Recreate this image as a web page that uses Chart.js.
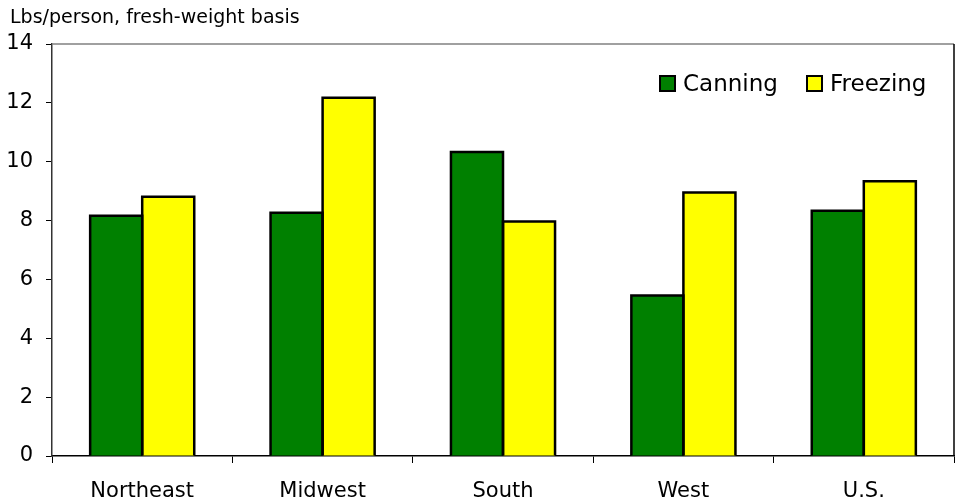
<!DOCTYPE html>
<html>
<head>
<meta charset="utf-8">
<script src="https://cdn.jsdelivr.net/npm/chart.js@4"></script>
<style>
  html, body { margin: 0; padding: 0; background: #ffffff; }
  canvas { display: block; }
</style>
</head>
<body>
<canvas id="chart" width="959" height="502"></canvas>
<script>
// Per-capita use of vegetables for processing, by region
const regions = ['Northeast', 'Midwest', 'South', 'West', 'U.S.'];
const canning = [8.16, 8.27, 10.33, 5.45, 8.33];
const freezing = [8.81, 12.17, 7.97, 8.95, 9.34];
const seriesNames = ['Canning', 'Freezing'];
const unitLabel = 'Lbs/person, fresh-weight basis';

const FONT = 'DejaVu Sans';

// Unit caption above the value axis
const captionPlugin = {
  id: 'caption',
  afterDraw(chart) {
    const ctx = chart.ctx;
    ctx.save();
    ctx.font = '19px "' + FONT + '"';
    ctx.fillStyle = '#000';
    ctx.textAlign = 'left';
    ctx.textBaseline = 'alphabetic';
    ctx.fillText(unitLabel, 10, 23);
    ctx.restore();
  }
};

// Outline each bar with a centred stroke so neighbouring bars share one edge
const barOutlinePlugin = {
  id: 'barOutline',
  afterDatasetsDraw(chart) {
    const ctx = chart.ctx;
    ctx.save();
    ctx.lineWidth = 2.5;
    ctx.strokeStyle = '#000';
    ctx.lineJoin = 'miter';
    chart.data.datasets.forEach((ds, i) => {
      const meta = chart.getDatasetMeta(i);
      meta.data.forEach(bar => {
        const p = bar.getProps(['x', 'y', 'base', 'width'], true);
        const left = p.x - p.width / 2;
        ctx.beginPath();
        ctx.moveTo(left, p.base);
        ctx.lineTo(left, p.y);
        ctx.lineTo(left + p.width, p.y);
        ctx.lineTo(left + p.width, p.base);
        ctx.stroke();
      });
    });
    ctx.restore();
  }
};

// Top and right edges of the plot frame
const framePlugin = {
  id: 'frame',
  afterDraw(chart) {
    const { ctx, chartArea: a } = chart;
    ctx.save();
    ctx.lineWidth = 1.5;
    ctx.strokeStyle = '#808080';
    ctx.beginPath();
    ctx.moveTo(a.left, a.top);
    ctx.lineTo(a.right, a.top);
    ctx.stroke();
    ctx.strokeStyle = '#000';
    ctx.beginPath();
    ctx.moveTo(a.right, a.top);
    ctx.lineTo(a.right, a.bottom);
    ctx.stroke();
    ctx.restore();
  }
};

// Legend placed inside the plot, top right
const insideLegendPlugin = {
  id: 'insideLegend',
  afterDraw(chart) {
    const ctx = chart.ctx;
    const xs = [660, 807];
    ctx.save();
    ctx.font = '23px "' + FONT + '"';
    ctx.textBaseline = 'middle';
    ctx.textAlign = 'left';
    chart.data.datasets.forEach((ds, i) => {
      const x = xs[i];
      ctx.fillStyle = ds.backgroundColor;
      ctx.fillRect(x, 76, 15, 15);
      ctx.lineWidth = 2;
      ctx.strokeStyle = '#000';
      ctx.strokeRect(x, 76, 15, 15);
      ctx.fillStyle = '#000';
      ctx.fillText(ds.label, x + 23, 85);
    });
    ctx.restore();
  }
};

new Chart(document.getElementById('chart'), {
  type: 'bar',
  data: {
    labels: regions,
    datasets: [
      {
        label: seriesNames[0],
        data: canning,
        backgroundColor: '#008000',
        borderWidth: 0,
        categoryPercentage: 0.577,
        barPercentage: 1.0
      },
      {
        label: seriesNames[1],
        data: freezing,
        backgroundColor: '#FFFF00',
        borderWidth: 0,
        categoryPercentage: 0.577,
        barPercentage: 1.0
      }
    ]
  },
  options: {
    responsive: false,
    animation: false,
    devicePixelRatio: 1,
    layout: { padding: { top: 44, right: 5, left: 0, bottom: 0 } },
    plugins: {
      legend: { display: false },
      tooltip: { enabled: false },
      title: { display: false }
    },
    scales: {
      x: {
        afterFit(scale) { scale.height = 46; },
        grid: {
          offset: true,
          drawOnChartArea: false,
          drawTicks: true,
          tickLength: 7,
          color: '#000',
          lineWidth: 1
        },
        border: { display: true, color: '#000', width: 1.5 },
        ticks: {
          color: '#000',
          font: { family: FONT, size: 21 },
          padding: 16,
          maxRotation: 0
        }
      },
      y: {
        min: 0,
        max: 14,
        afterFit(scale) { scale.width = 52; },
        grid: {
          drawOnChartArea: false,
          drawTicks: true,
          tickLength: 6,
          color: '#000',
          lineWidth: 1
        },
        border: { display: true, color: '#333', width: 1.5 },
        ticks: {
          stepSize: 2,
          color: '#000',
          font: { family: FONT, size: 21 },
          padding: 13
        }
      }
    }
  },
  plugins: [captionPlugin, barOutlinePlugin, framePlugin, insideLegendPlugin]
});
</script>
</body>
</html>
